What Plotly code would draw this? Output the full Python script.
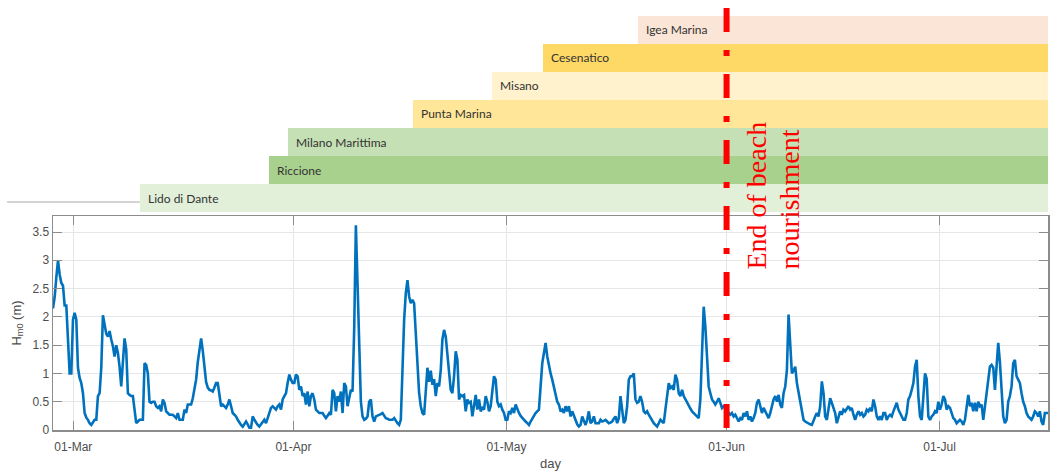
import pandas as pd
import plotly.graph_objects as go

# ---------------- data ----------------
beaches = ["Lido di Dante", "Riccione", "Milano Marittima", "Punta Marina",
           "Misano", "Cesenatico", "Igea Marina"]
nourish_start = ["2019-03-10 08:00", "2019-03-28 14:00", "2019-03-31 05:30",
                 "2019-04-17 20:00", "2019-04-28 22:00", "2019-05-06 03:00",
                 "2019-05-19 12:00"]
bar_colors = ["#E2F0D9", "#A9D18E", "#C5E0B4", "#FFE699", "#FFF2CC",
              "#FFD966", "#FBE5D6"]
nourish_end_date = "2019-06-01"
end_label = ["End of beach", "nourishment"]

series_start = "2019-02-26 03:20"
series_end = "2019-07-16 06:30"
sample_minutes = 337.5

month_ticks = ["2019-03-01", "2019-04-01", "2019-05-01", "2019-06-01", "2019-07-01"]
y_ticks = [0, 0.5, 1, 1.5, 2, 2.5, 3, 3.5]

hm0 = [
    2.15, 2.35, 2.7, 3.0, 2.75, 2.6, 2.55, 2.2, 2.2, 1.5, 1.0, 1.0, 1.95, 2.07, 1.95, 1.1, 0.92, 0.83, 0.65, 0.3,
    0.22, 0.18, 0.12, 0.09, 0.14, 0.18, 0.18, 0.6, 0.65, 1.1, 2.03, 1.83, 1.7, 1.65, 1.75, 1.6, 1.48, 1.3, 1.5, 1.36,
    1.12, 0.77, 1.3, 1.62, 1.42, 0.65, 0.62, 0.6, 0.6, 0.33, 0.12, 0.15, 0.18, 0.18, 0.18, 1.18, 1.15, 1.0, 0.5, 0.48,
    0.5, 0.5, 0.42, 0.39, 0.42, 0.33, 0.54, 0.48, 0.33, 0.3, 0.27, 0.27, 0.27, 0.24, 0.21, 0.3, 0.18, 0.18, 0.18, 0.36,
    0.3, 0.45, 0.45, 0.45, 0.56, 0.7, 0.89, 1.2, 1.46, 1.62, 1.4, 1.05, 0.85, 0.75, 0.71, 0.7, 0.68, 0.75, 0.83, 0.83,
    0.6, 0.42, 0.45, 0.42, 0.39, 0.45, 0.54, 0.42, 0.3, 0.27, 0.24, 0.18, 0.12, 0.09, 0.06, 0.1, 0.15, 0.1, 0.04, 0.04,
    0.24, 0.18, 0.12, 0.09, 0.06, 0.1, 0.15, 0.18, 0.12, 0.2, 0.3, 0.39, 0.42, 0.39, 0.36, 0.42, 0.45, 0.36, 0.54, 0.6,
    0.65, 0.83, 0.98, 0.89, 0.83, 0.83, 0.98, 0.95, 0.71, 0.77, 0.6, 0.65, 0.45, 0.68, 0.42, 0.6, 0.65, 0.54, 0.36, 0.33,
    0.3, 0.3, 0.3, 0.25, 0.21, 0.25, 0.3, 0.27, 0.71, 0.65, 0.33, 0.6, 0.5, 0.68, 0.3, 0.83, 0.77, 0.42, 0.6, 0.71,
    0.68, 1.8, 3.62, 2.4, 1.3, 0.5, 0.24, 0.18, 0.2, 0.24, 0.5, 0.54, 0.24, 0.15, 0.24, 0.25, 0.27, 0.28, 0.3, 0.25,
    0.21, 0.2, 0.18, 0.18, 0.18, 0.21, 0.15, 0.12, 0.09, 0.18, 1.06, 1.95, 2.42, 2.65, 2.36, 2.24, 2.3, 2.24, 1.71, 1.06,
    0.65, 0.42, 0.3, 0.27, 0.77, 1.1, 0.85, 1.05, 0.8, 0.9, 0.6, 0.83, 0.77, 1.06, 1.6, 1.77, 1.65, 1.3, 0.95, 0.71,
    0.65, 0.95, 1.39, 1.24, 0.54, 0.62, 0.6, 0.62, 0.33, 0.54, 0.48, 0.5, 0.24, 0.42, 0.62, 0.36, 0.54, 0.33, 0.39, 0.36,
    0.6, 0.5, 0.33, 0.42, 0.65, 0.95, 0.89, 0.5, 0.42, 0.45, 0.36, 0.3, 0.18, 0.18, 0.33, 0.3, 0.39, 0.3, 0.45, 0.36,
    0.3, 0.25, 0.21, 0.18, 0.15, 0.12, 0.09, 0.15, 0.21, 0.25, 0.3, 0.33, 0.36, 0.77, 1.18, 1.36, 1.54, 1.3, 1.12, 1.0,
    0.89, 0.74, 0.65, 0.5, 0.45, 0.33, 0.36, 0.3, 0.42, 0.33, 0.42, 0.24, 0.33, 0.24, 0.15, 0.1, 0.06, 0.09, 0.24, 0.18,
    0.09, 0.18, 0.33, 0.12, 0.15, 0.24, 0.12, 0.12, 0.12, 0.18, 0.15, 0.16, 0.18, 0.15, 0.12, 0.13, 0.15, 0.2, 0.24, 0.12,
    0.21, 0.6, 0.3, 0.12, 0.18, 0.42, 0.89, 0.95, 0.95, 1.0, 0.54, 0.48, 0.5, 0.6, 0.5, 0.33, 0.3, 0.33, 0.27, 0.21,
    0.18, 0.12, 0.09, 0.06, 0.12, 0.18, 0.15, 0.12, 0.36, 0.65, 0.83, 0.74, 0.77, 0.71, 0.98, 0.89, 0.65, 0.6, 0.71, 0.6,
    0.54, 0.48, 0.42, 0.38, 0.33, 0.3, 0.27, 0.24, 0.21, 0.54, 1.36, 2.18, 1.83, 1.24, 0.77, 0.65, 0.54, 0.5, 0.45, 0.5,
    0.56, 0.48, 0.39, 0.42, 0.39, 0.36, 0.3, 0.27, 0.3, 0.24, 0.27, 0.21, 0.15, 0.21, 0.18, 0.3, 0.24, 0.33, 0.18, 0.24,
    0.15, 0.21, 0.3, 0.48, 0.54, 0.42, 0.3, 0.39, 0.33, 0.24, 0.21, 0.3, 0.42, 0.54, 0.6, 0.5, 0.62, 0.45, 0.39, 0.65,
    0.77, 1.06, 2.04, 1.6, 1.0, 1.05, 1.12, 0.83, 0.65, 0.48, 0.3, 0.18, 0.15, 0.13, 0.12, 0.1, 0.09, 0.18, 0.24, 0.3,
    0.24, 0.42, 0.86, 0.65, 0.24, 0.18, 0.36, 0.56, 0.48, 0.39, 0.3, 0.12, 0.24, 0.33, 0.27, 0.36, 0.33, 0.39, 0.42, 0.36,
    0.39, 0.27, 0.18, 0.27, 0.33, 0.27, 0.3, 0.24, 0.27, 0.36, 0.33, 0.39, 0.33, 0.54, 0.42, 0.24, 0.18, 0.24, 0.18, 0.3,
    0.3, 0.18, 0.24, 0.27, 0.24, 0.33, 0.42, 0.48, 0.36, 0.3, 0.24, 0.18, 0.18, 0.3, 0.54, 0.6, 0.71, 0.83, 1.12, 1.24,
    0.6, 0.24, 0.18, 0.6, 1.0, 0.9, 0.24, 0.18, 0.24, 0.27, 0.33, 0.3, 0.5, 0.36, 0.45, 0.6, 0.54, 0.36, 0.42, 0.39,
    0.3, 0.21, 0.18, 0.12, 0.15, 0.18, 0.15, 0.09, 0.18, 0.42, 0.62, 0.42, 0.48, 0.33, 0.48, 0.33, 0.5, 0.42, 0.45, 0.18,
    0.42, 0.6, 0.89, 1.12, 1.15, 1.1, 0.71, 1.24, 1.54, 1.2, 0.6, 0.24, 0.12, 0.18, 0.5, 0.6, 0.77, 1.18, 1.24, 0.95,
    0.89, 0.83, 0.65, 0.5, 0.42, 0.3, 0.24, 0.21, 0.18, 0.24, 0.33, 0.3, 0.24, 0.33, 0.15, 0.09, 0.3, 0.3, 0.3,
]

# ---------------- figure ----------------
times = pd.date_range(start=series_start, periods=len(hm0),
                      freq=pd.Timedelta(minutes=sample_minutes))
starts = pd.to_datetime(nourish_start)
durations_ms = [(pd.Timestamp(series_end) - s).total_seconds() * 1000 for s in starts]

W, H = 1050, 471
MT, MB, ML, MR = 8, 41, 53, 0
PH = H - MT - MB


def fy(px):  # pixel row -> paper fraction
    return (H - MB - px) / PH


def fx(px):
    return (px - ML) / (W - ML - MR)


fig = go.Figure()

fig.add_trace(go.Bar(
    y=beaches, x=durations_ms, base=[s.strftime("%Y-%m-%d %H:%M") for s in starts],
    orientation="h", marker=dict(color=bar_colors, line=dict(width=0)),
    xaxis="x2", yaxis="y2", hoverinfo="skip", showlegend=False,
))

fig.add_trace(go.Scatter(
    x=times, y=hm0, mode="lines", line=dict(color="#0072BD", width=2.6),
    showlegend=False, hoverinfo="skip",
))

axis_col = "#8c8c8c"
tick_font = dict(family="Liberation Sans, Arial, sans-serif", size=12, color="#4d4d4d")

fig.update_layout(
    width=W, height=H,
    margin=dict(l=ML, r=MR, t=MT, b=MB, pad=0),
    paper_bgcolor="white", plot_bgcolor="white",
    bargap=0,
    xaxis=dict(
        type="date", range=[series_start, series_end], domain=[0, 1], anchor="y",
        tickvals=month_ticks, tickformat="%d-%b", tickfont=tick_font,
        ticks="inside", ticklen=9, tickcolor=axis_col, tickwidth=1,
        showline=True, linecolor=axis_col, linewidth=1.5, mirror="ticks",
        showgrid=True, gridcolor="#e6e6e6", gridwidth=1, zeroline=False,
        ticklabelstandoff=5,
        title=dict(text="day", font=dict(family="Liberation Sans, Arial, sans-serif",
                                         size=13, color="#4d4d4d"), standoff=7),
    ),
    yaxis=dict(
        domain=[0, fy(216)], range=[0, 3.783], anchor="x",
        tickvals=y_ticks, tickfont=tick_font,
        ticks="inside", ticklen=9, tickcolor=axis_col, tickwidth=1,
        showline=True, linecolor=axis_col, linewidth=1.5, mirror="ticks",
        showgrid=True, gridcolor="#e6e6e6", gridwidth=1, zeroline=False,
        title=dict(text="H<sub>m0</sub> (m)",
                   font=dict(family="Liberation Sans, Arial, sans-serif",
                             size=13, color="#4d4d4d"), standoff=8),
    ),
    xaxis2=dict(
        type="date", range=[series_start, series_end], domain=[0, 1], anchor="y2",
        visible=False, showgrid=False, zeroline=False,
    ),
    yaxis2=dict(
        domain=[fy(212), fy(16)], anchor="x2", type="category",
        categoryorder="array", categoryarray=beaches, range=[-0.5, 6.5],
        visible=False, showgrid=False, zeroline=False,
    ),
)

# beach labels inside the bars
for name, s in zip(beaches, starts):
    fig.add_annotation(
        x=s.strftime("%Y-%m-%d %H:%M"), y=name, xref="x2", yref="y2",
        text=name, showarrow=False, xanchor="left", yanchor="middle", xshift=6,
        font=dict(family="Lato, Open Sans, sans-serif", size=12, color="#333333"),
    )

# thin leftover rule at the top-left
fig.add_shape(type="line", xref="paper", yref="paper",
              x0=fx(7), x1=fx(140), y0=fy(202), y1=fy(202),
              line=dict(color="#a6a6a6", width=1), layer="below")

# end of beach nourishment marker
fig.add_shape(type="line", xref="x", yref="paper",
              x0=nourish_end_date, x1=nourish_end_date, y0=fy(8), y1=0,
              line=dict(color="#FF0000", width=6, dash="24px,18px,6px,18px"),
              layer="above")

for i, txt in enumerate(end_label):
    fig.add_annotation(
        x=nourish_end_date, xref="x", y=fy(272), yref="paper",
        text=txt, textangle=-90, showarrow=False,
        xanchor="center", yanchor="bottom", xshift=29 + 33 * i,
        font=dict(family="Liberation Serif, Times New Roman, serif", size=28, color="#FF0000"),
    )

fig.write_html("out.html",
               config={"displayModeBar": False, "staticPlot": True},
               post_script="document.body.style.margin='0px';document.body.style.overflow='hidden';")
